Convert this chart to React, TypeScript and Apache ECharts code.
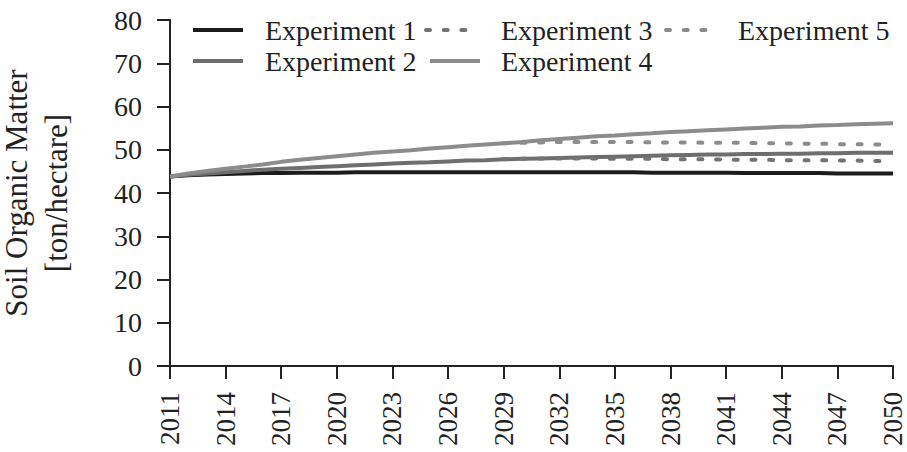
import React, { useEffect, useRef } from "react";
import * as echarts from "echarts";

const years: string[] = [];
for (let y = 2011; y <= 2050; y++) years.push(String(y));

const exp1 = [43.8, 44.1, 44.3, 44.4, 44.5, 44.6, 44.6, 44.7, 44.7, 44.7, 44.8, 44.8, 44.8, 44.8, 44.8, 44.8, 44.8, 44.8, 44.8, 44.8, 44.8, 44.8, 44.8, 44.8, 44.8, 44.8, 44.7, 44.7, 44.7, 44.7, 44.7, 44.6, 44.6, 44.6, 44.6, 44.6, 44.5, 44.5, 44.5, 44.5];
const exp2 = [43.8, 44.2, 44.5, 44.8, 45.1, 45.4, 45.6, 45.8, 46.0, 46.2, 46.4, 46.6, 46.8, 47.0, 47.1, 47.3, 47.5, 47.6, 47.8, 47.9, 48.0, 48.1, 48.2, 48.3, 48.4, 48.5, 48.6, 48.7, 48.8, 48.9, 48.9, 49.0, 49.0, 49.1, 49.1, 49.2, 49.2, 49.3, 49.3, 49.3];
const exp3 = [null, null, null, null, null, null, null, null, null, null, null, null, null, null, null, null, null, null, 47.8, 47.9, 48.0, 48.0, 48.0, 48.0, 47.9, 47.9, 47.9, 47.8, 47.8, 47.8, 47.7, 47.7, 47.7, 47.6, 47.6, 47.6, 47.5, 47.5, 47.4, 47.4];
const exp4 = [43.8, 44.5, 45.1, 45.6, 46.1, 46.6, 47.2, 47.7, 48.1, 48.5, 48.9, 49.3, 49.6, 49.9, 50.3, 50.6, 50.9, 51.2, 51.5, 51.8, 52.2, 52.5, 52.8, 53.1, 53.3, 53.6, 53.8, 54.1, 54.3, 54.5, 54.7, 54.9, 55.1, 55.3, 55.4, 55.6, 55.7, 55.9, 56.0, 56.1];
const exp5 = [null, null, null, null, null, null, null, null, null, null, null, null, null, null, null, null, null, null, 51.5, 51.6, 51.7, 51.8, 51.8, 51.8, 51.8, 51.8, 51.7, 51.7, 51.7, 51.6, 51.6, 51.6, 51.5, 51.5, 51.4, 51.4, 51.3, 51.3, 51.2, 51.2];

const seriesNames = ["Experiment 1", "Experiment 2", "Experiment 3", "Experiment 4", "Experiment 5"];

const FONT = "Liberation Serif";
const TXT = "#222222";

export default function App() {
  const ref = useRef<HTMLDivElement>(null);
  useEffect(() => {
    if (!ref.current) return;
    const chart = echarts.init(ref.current, undefined, { renderer: "svg" });
    const dotted = { type: [4, 13.7] as any, cap: "round" as const };
    const mk = (name: string, data: any[], color: string, extra: any = {}) => ({
      name,
      type: "line",
      data,
      symbol: "none",
      showSymbol: false,
      connectNulls: false,
      lineStyle: { color, width: 4, ...extra },
      itemStyle: { color },
      z: 2,
    });
    const legendBase = (name: string, left: number, top: number, pad: number) => ({
      data: [name],
      left,
      top,
      orient: "horizontal",
      itemWidth: 50,
      itemHeight: 14,
      selectedMode: false,
      padding: 0,
      itemStyle: { opacity: 0 },
      lineStyle: { width: 4 },
      textStyle: { fontFamily: FONT, fontSize: 28, color: TXT, padding: [0, 0, 0, pad], lineHeight: 28 },
    });
    chart.setOption({
      animation: false,
      backgroundColor: "#ffffff",
      textStyle: { fontFamily: FONT },
      legend: [
        legendBase("Experiment 1", 191, 16, 17),
        legendBase("Experiment 2", 191, 47, 17),
        legendBase("Experiment 3", 424, 16, 20),
        legendBase("Experiment 4", 428, 47, 16),
        legendBase("Experiment 5", 664, 16, 17),
      ],
      grid: { left: 170, right: 14, top: 20, bottom: 86, containLabel: false, outerBoundsMode: "none" },
      xAxis: {
        type: "category",
        data: years,
        boundaryGap: false,
        axisLine: { lineStyle: { color: TXT, width: 2 } },
        axisTick: { interval: 2, length: 13, lineStyle: { color: TXT, width: 2 } },
        axisLabel: { interval: 2, rotate: 90, margin: 26, fontFamily: FONT, fontSize: 27, color: TXT },
        splitLine: { show: false },
      },
      yAxis: {
        type: "value",
        min: 0,
        max: 80,
        interval: 10,
        name: "Soil Organic Matter\n[ton/hectare]",
        nameLocation: "middle",
        nameRotate: 90,
        nameGap: 94,
        nameTextStyle: { fontFamily: FONT, fontSize: 31, color: TXT, lineHeight: 40 },
        axisLine: { show: true, lineStyle: { color: TXT, width: 2 } },
        axisTick: { show: true, length: 13, lineStyle: { color: TXT, width: 2 } },
        axisLabel: { margin: 28, fontFamily: FONT, fontSize: 28, color: TXT },
        splitLine: { show: false },
      },
      series: [
        mk(seriesNames[0], exp1, "#1c1c1c"),
        mk(seriesNames[1], exp2, "#6e6e6e"),
        mk(seriesNames[2], exp3, "#737373", dotted),
        mk(seriesNames[3], exp4, "#8c8c8c"),
        mk(seriesNames[4], exp5, "#8c8c8c", dotted),
      ],
    });
    return () => chart.dispose();
  }, []);
  return <div ref={ref} style={{ width: 907, height: 452, position: "absolute", left: 0, top: 0 }} />;
}
